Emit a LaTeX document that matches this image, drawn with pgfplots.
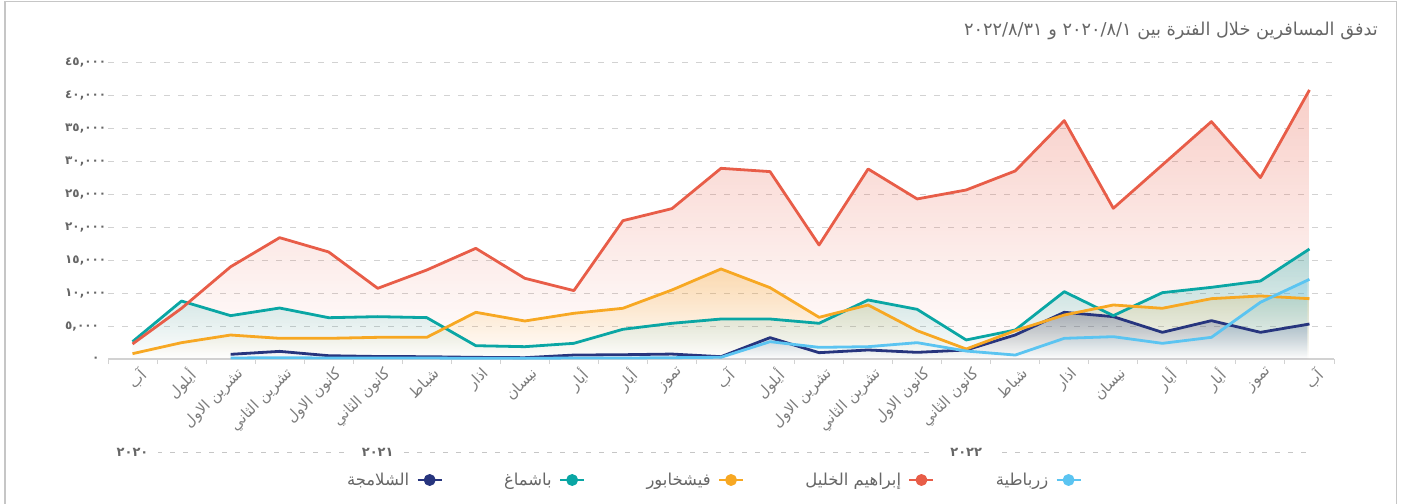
\documentclass[border=0pt]{standalone}
\usepackage{fontspec}
\usepackage{pgfplots}
\usepackage{pgfplotstable}
\pgfplotsset{compat=1.18}
\usetikzlibrary{fadings}
\TeXXeTstate=1
\setmainfont{DejaVu Sans}
\newfontfamily\arabicfont[Script=Arabic]{DejaVu Sans}
\definecolor{cred}{HTML}{E85D48}
\definecolor{cteal}{HTML}{0AA6A4}
\definecolor{corange}{HTML}{F7A823}
\definecolor{cnavy}{HTML}{27357E}
\definecolor{cblue}{HTML}{5BC4F1}
\definecolor{txtgray}{HTML}{666666}
\tikzfading[name=areafade, top color=transparent!70, middle color=transparent!94, bottom color=transparent!100]

\pgfplotstableread{
x y
0 2280
1 7700
2 14000
3 18420
4 16250
5 10730
6 13510
7 16800
8 12250
9 10380
10 21000
11 22830
12 28950
13 28450
14 17310
15 28850
16 24300
17 25660
18 28550
19 36190
20 22880
21 29460
22 36040
23 27540
24 40850
}\redtab

\pgfplotstableread{
x y
0 2630
1 8800
2 6580
3 7740
4 6270
5 6430
6 6280
7 2020
8 1870
9 2380
10 4510
11 5420
12 6070
13 6070
14 5420
15 8960
16 7540
17 2890
18 4400
19 10220
20 6580
21 10070
22 10880
23 11840
24 16700
}\tealtab

\pgfplotstableread{
x y
0 810
1 2480
2 3640
3 3140
4 3140
5 3290
6 3290
7 7090
8 5770
9 6940
10 7700
11 10480
12 13670
13 10830
14 6330
15 8200
16 4300
17 1520
18 4300
19 6680
20 8200
21 7700
22 9160
23 9570
24 9160
}\orangetab

\pgfplotstableread{
x y
2 710
3 1160
4 500
5 380
6 350
7 250
8 200
9 600
10 650
11 750
12 350
13 3240
14 960
15 1370
16 1010
17 1370
18 3650
19 7090
20 6430
21 4050
22 5820
23 4050
24 5310
}\navytab

\pgfplotstableread{
x y
2 150
3 200
4 150
5 150
6 150
7 100
8 100
9 150
10 150
11 200
12 260
13 2630
14 1770
15 1870
16 2480
17 1210
18 600
19 3140
20 3390
21 2380
22 3290
23 8610
24 12100
}\bluetab

\begin{document}
\begin{tikzpicture}
\useasboundingbox (0,0) rectangle (1403bp,504bp);
\draw[gray!45, line width=1.5bp] (5bp,0) -- (5bp,502.5bp) -- (1396.5bp,502.5bp) -- (1396.5bp,0);
\node[anchor=east, inner sep=0pt, text=txtgray, font=\arabicfont\fontsize{17.8}{17.8}\selectfont] at (1378bp,473bp)
  {\beginR تدفق المسافرين خلال الفترة بين ٢٠٢٠/٨/١ و ٢٠٢٢/٨/٣١\endR};
\begin{axis}[
  at={(108bp,145bp)}, anchor=south west,
  scale only axis, width=1226bp, height=296.4bp,
  xmin=-0.5, xmax=24.5, ymin=0, ymax=45000,
  enlargelimits=false, clip=false,
  scaled y ticks=false,
  axis x line*=bottom, axis y line*=left,
  y axis line style={draw=none},
  x axis line style={draw=gray!35, line width=1.2bp},
  xtick={0,...,24},
  xticklabels={{\beginR آب\endR},{\beginR أيلول\endR},{\beginR تشرين الاول\endR},{\beginR تشرين الثاني\endR},{\beginR كانون الاول\endR},{\beginR كانون الثاني\endR},{\beginR شباط\endR},{\beginR اذار\endR},{\beginR نيسان\endR},{\beginR أيار\endR},{\beginR أيار\endR},{\beginR تموز\endR},{\beginR آب\endR},{\beginR أيلول\endR},{\beginR تشرين الاول\endR},{\beginR تشرين الثاني\endR},{\beginR كانون الاول\endR},{\beginR كانون الثاني\endR},{\beginR شباط\endR},{\beginR اذار\endR},{\beginR نيسان\endR},{\beginR أيار\endR},{\beginR أيار\endR},{\beginR تموز\endR},{\beginR آب\endR}},
  minor xtick={-0.5,0.5,...,24.5},
  major tick length=0pt, minor tick length=5bp, tick align=outside,
  minor tick style={draw=gray!35, line width=1bp},
  xticklabel style={font=\arabicfont\fontsize{15}{15}\selectfont, text=txtgray!85, inner sep=0pt, xshift=5bp, yshift=-7bp, rotate=45, anchor=north east},
  ytick={0,5000,...,45000},
  yticklabels={{\hspace{27bp}٠},{٥,٠٠٠},{١٠,٠٠٠},{١٥,٠٠٠},{٢٠,٠٠٠},{٢٥,٠٠٠},{٣٠,٠٠٠},{٣٥,٠٠٠},{٤٠,٠٠٠},{٤٥,٠٠٠}},
  yticklabel style={font=\arabicfont\bfseries\fontsize{12}{12}\selectfont, text=txtgray, anchor=west, inner sep=0pt, xshift=-43bp},
  ymajorgrids,
  major grid style={draw=gray!35, line width=1bp, dash pattern=on 6bp off 8bp},
  legend columns=5,
  legend plot pos=right,
  legend style={at={(axis description cs:0.5,0)}, anchor=center, yshift=-121bp, xshift=-7bp, draw=none, fill=none,
    font=\arabicfont\fontsize{16.5}{16.5}\selectfont, text=txtgray,
    nodes={inner sep=1bp},
    /tikz/every even column/.append style={column sep=60bp},
    /tikz/every odd column/.append style={column sep=6bp}},
  legend image code/.code={
    \draw[#1, line width=2.8bp] (0bp,0bp) -- (24bp,0bp);
    \fill[#1] (12bp,0bp) circle (4.5bp);
  },
]
% area fills
\addplot[draw=none, fill=cred, path fading=areafade, forget plot] table {\redtab} \closedcycle;
\addplot[draw=none, fill=corange, path fading=areafade, forget plot] table {\orangetab} \closedcycle;
\addplot[draw=none, fill=cteal, path fading=areafade, forget plot] table {\tealtab} \closedcycle;
\addplot[draw=none, fill=cnavy, path fading=areafade, forget plot] table {\navytab} \closedcycle;
\addplot[draw=none, fill=cblue, path fading=areafade, forget plot] table {\bluetab} \closedcycle;
% lines
\addplot[cnavy, line width=2.8bp, line join=round] table {\navytab};
\addlegendentry{\beginR الشلامجة\endR}
\addplot[cteal, line width=2.8bp, line join=round] table {\tealtab};
\addlegendentry{\beginR باشماغ\endR}
\addplot[corange, line width=2.8bp, line join=round] table {\orangetab};
\addlegendentry{\beginR فيشخابور\endR}
\addplot[cred, line width=2.8bp, line join=round] table {\redtab};
\addlegendentry{\beginR إبراهيم الخليل\endR}
\addplot[cblue, line width=2.8bp, line join=round] table {\bluetab};
\addlegendentry{\beginR زرباطية\endR}
% year group row
\draw[gray!45, line width=1bp, dash pattern=on 5bp off 8bp] ([yshift=-93bp]axis cs:0.5,0) -- ([yshift=-93bp]axis cs:24,0);
\node[fill=white, inner xsep=10bp, inner ysep=2bp, text=txtgray, font=\arabicfont\bfseries\fontsize{13}{13}\selectfont] at ([yshift=-93bp]axis cs:0,0) {٢٠٢٠};
\node[fill=white, inner xsep=10bp, inner ysep=2bp, text=txtgray, font=\arabicfont\bfseries\fontsize{13}{13}\selectfont] at ([yshift=-93bp]axis cs:5,0) {٢٠٢١};
\node[fill=white, inner xsep=14bp, inner ysep=2bp, text=txtgray, font=\arabicfont\bfseries\fontsize{13}{13}\selectfont] at ([yshift=-93bp]axis cs:17,0) {٢٠٢٢};
\end{axis}
\end{tikzpicture}
\end{document}
